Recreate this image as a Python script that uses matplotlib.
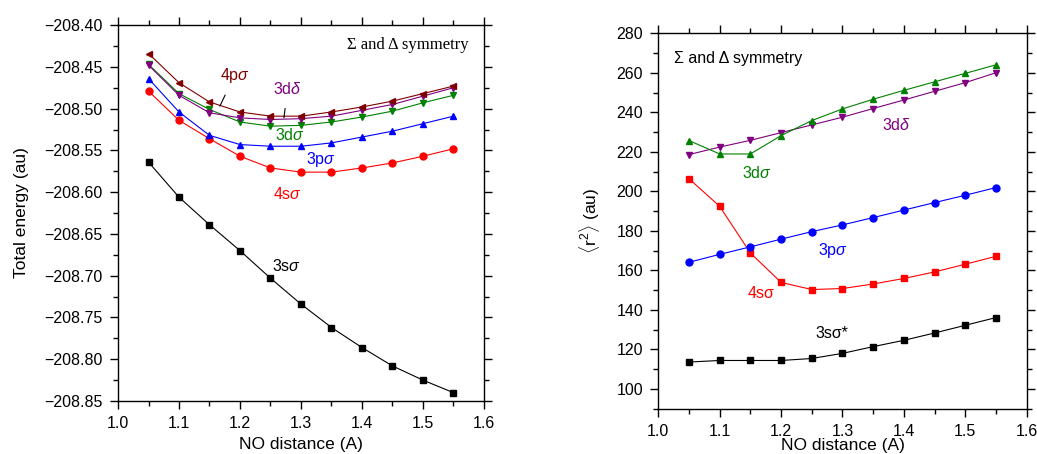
import numpy as np
import matplotlib.pyplot as plt
from matplotlib.ticker import MultipleLocator, FuncFormatter

plt.rcParams['font.family'] = ['Liberation Sans', 'DejaVu Sans']
plt.rcParams['mathtext.fontset'] = 'custom'
plt.rcParams['mathtext.rm'] = 'Liberation Sans'
plt.rcParams['mathtext.it'] = 'Liberation Sans:italic'

dist = [1.05, 1.10, 1.15, 1.20, 1.25, 1.30, 1.35, 1.40, 1.45, 1.50, 1.55]

# total energy (au)
e_4pσ = [-208.434, -208.469, -208.492, -208.504, -208.509, -208.509, -208.504, -208.498, -208.491, -208.482, -208.473]
e_3dδ = [-208.448, -208.484, -208.505, -208.511, -208.513, -208.512, -208.509, -208.502, -208.495, -208.485, -208.475]
e_3dσ = [-208.447, -208.482, -208.501, -208.516, -208.521, -208.520, -208.516, -208.510, -208.503, -208.493, -208.484]
e_3pσ = [-208.464, -208.504, -208.532, -208.543, -208.545, -208.545, -208.541, -208.534, -208.527, -208.518, -208.509]
e_4sσ = [-208.479, -208.514, -208.536, -208.557, -208.571, -208.576, -208.576, -208.571, -208.565, -208.557, -208.548]
e_3sσ = [-208.564, -208.606, -208.639, -208.670, -208.703, -208.734, -208.762, -208.786, -208.808, -208.825, -208.840]

# <r^2> (au)
r2_3dσ = [225.7, 218.9, 218.9, 228.2, 235.8, 241.7, 246.6, 251.1, 255.4, 259.7, 264.0]
r2_3dδ = [218.6, 222.4, 225.8, 229.7, 233.6, 237.5, 241.9, 246.2, 250.6, 255.0, 260.0]
r2_4sσ = [206.4, 192.4, 168.8, 153.9, 150.3, 150.8, 153.1, 155.9, 159.2, 163.1, 167.1]
r2_3pσ = [164.1, 168.1, 171.9, 175.8, 179.6, 183.0, 186.7, 190.5, 194.3, 198.0, 201.9]
r2_3sσ = [113.6, 114.4, 114.4, 114.4, 115.4, 118.0, 121.4, 124.6, 128.3, 132.2, 136.1]

fig = plt.figure(figsize=(10.37, 4.54), dpi=100)
ax1 = fig.add_axes([0.1138, 0.1167, 0.3529, 0.828])
ax2 = fig.add_axes([0.6348, 0.0998, 0.3552, 0.827])

lw = 0.8
ms = 5
ax1.plot(dist, e_3sσ, '-s', color='black', lw=lw, ms=ms - 0.5)
ax1.plot(dist, e_4sσ, '-o', color='red', lw=lw, ms=ms)
ax1.plot(dist, e_3pσ, '-^', color='blue', lw=lw, ms=ms)
ax1.plot(dist, e_3dσ, '-v', color='green', lw=lw, ms=ms)
ax1.plot(dist, e_3dδ, '-v', color='purple', lw=lw, ms=ms)
ax1.plot(dist, e_4pσ, '-<', color='#800000', lw=lw, ms=ms)

ax2.plot(dist, r2_3sσ, '-s', color='black', lw=lw, ms=ms - 0.5)
ax2.plot(dist, r2_4sσ, '-s', color='red', lw=lw, ms=ms - 0.5)
ax2.plot(dist, r2_3pσ, '-o', color='blue', lw=lw, ms=ms)
ax2.plot(dist, r2_3dδ, '-v', color='purple', lw=lw, ms=ms)
ax2.plot(dist, r2_3dσ, '-^', color='green', lw=lw, ms=ms)

for ax in (ax1, ax2):
    ax.set_xlim(1.0, 1.6)
    ax.xaxis.set_major_locator(MultipleLocator(0.1))
    ax.xaxis.set_minor_locator(MultipleLocator(0.05))
    ax.xaxis.set_major_formatter(FuncFormatter(lambda v, p: f'{v:.1f}'))
    ax.tick_params(which='both', direction='out', top=True, right=True, labelsize=11.5, width=1)
    ax.tick_params(which='major', length=6, pad=5)
    ax.tick_params(which='minor', length=3.6)
    for s in ax.spines.values():
        s.set_linewidth(1)

ax1.set_xlabel('NO distance (A)', fontsize=12.5, labelpad=4)
ax2.set_xlabel('NO distance (A)', fontsize=12.5, labelpad=-1)

ax1.set_ylim(-208.85, -208.40)
ax1.yaxis.set_major_locator(MultipleLocator(0.05))
ax1.yaxis.set_minor_locator(MultipleLocator(0.025))
ax1.yaxis.set_major_formatter(FuncFormatter(lambda v, p: f'{v:.2f}'.replace('-', '\u2212')))
ax1.set_ylabel('Total energy (au)', fontsize=12.5, labelpad=11)

ax2.set_ylim(90, 280)
ax2.yaxis.set_major_locator(MultipleLocator(20))
ax2.yaxis.set_minor_locator(MultipleLocator(10))
ax2.set_ylabel(r'$\langle\mathrm{r}^2\rangle$ (au)', fontsize=12.5, labelpad=10)

fs = 11.5
ax1.text(0.959, 0.947, 'Σ and Δ symmetry', transform=ax1.transAxes, ha='right', va='center',
         fontsize=12, family='Liberation Serif')
ax1.annotate(r'4p$\sigma$', xy=(1.167, -208.497), xytext=(1.191, -208.460), color='#800000',
             fontsize=fs, ha='center', va='center',
             arrowprops=dict(arrowstyle='-', color='black', lw=0.8, shrinkA=6, shrinkB=0))
ax1.annotate(r'3d$\delta$', xy=(1.272, -208.511), xytext=(1.278, -208.477), color='purple',
             fontsize=fs, ha='center', va='center',
             arrowprops=dict(arrowstyle='-', color='black', lw=0.8, shrinkA=6, shrinkB=0))
ax1.text(1.282, -208.532, r'3d$\sigma$', color='green', fontsize=fs, ha='center', va='center')
ax1.text(1.333, -208.561, r'3p$\sigma$', color='blue', fontsize=fs, ha='center', va='center')
ax1.text(1.278, -208.602, r'4s$\sigma$', color='red', fontsize=fs, ha='center', va='center')
ax1.text(1.277, -208.688, r'3s$\sigma$', color='black', fontsize=fs, ha='center', va='center')

ax2.text(0.043, 0.933, 'Σ and Δ symmetry', transform=ax2.transAxes, ha='left', va='center', fontsize=11.5)
ax2.text(1.160, 209.1, r'3d$\sigma$', color='green', fontsize=fs, ha='center', va='center')
ax2.text(1.388, 233.6, r'3d$\delta$', color='purple', fontsize=fs, ha='center', va='center')
ax2.text(1.285, 170.3, r'3p$\sigma$', color='blue', fontsize=fs, ha='center', va='center')
ax2.text(1.168, 148.4, '4sσ', color='red', fontsize=fs, ha='center', va='center')
ax2.text(1.282, 128.1, '3sσ*', color='black', fontsize=fs, ha='center', va='center')

fig.savefig('out.png', dpi=100)
